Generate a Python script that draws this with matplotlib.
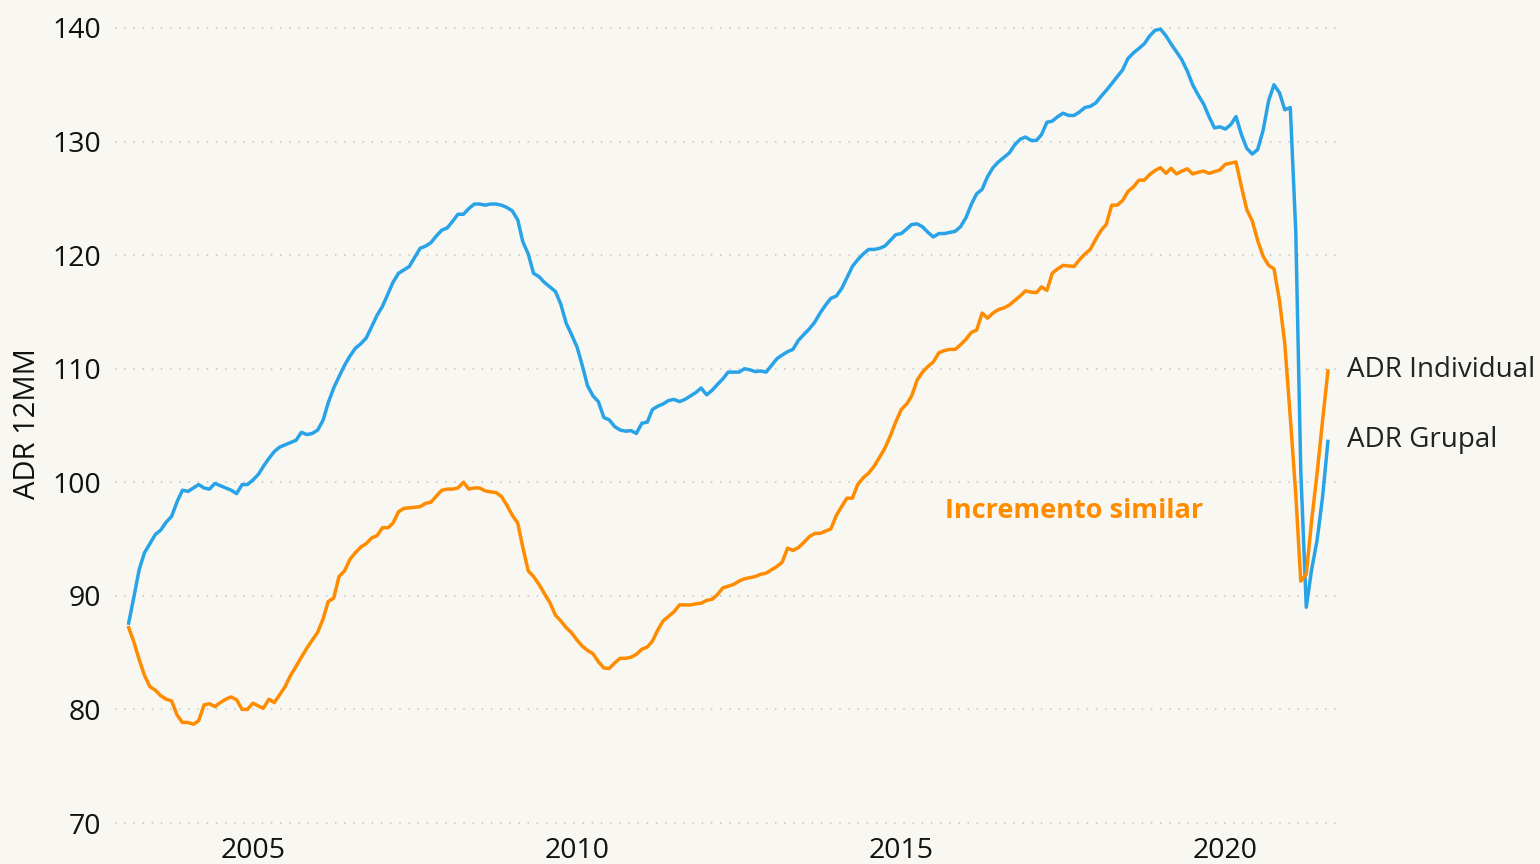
import matplotlib
matplotlib.use("Agg")
import matplotlib.pyplot as plt
import matplotlib.dates as mdates
import numpy as np
import pandas as pd

# monthly 12-month moving ADR, Jan 2003 .. Jul 2021
fechas = pd.date_range("2003-01-31", "2021-07-31", freq="ME")

adr_grupal = [
    87.6, 89.8, 92.3, 93.8, 94.6, 95.4, 95.8, 96.5, 97.0, 98.3, 99.3, 99.2,          # 2003
    99.5, 99.8, 99.5, 99.4, 99.9, 99.7, 99.5, 99.3, 99.0, 99.8, 99.8, 100.2,         # 2004
    100.7, 101.4, 102.1, 102.7, 103.1, 103.3, 103.5, 103.7, 104.4, 104.2, 104.3, 104.6,  # 2005
    105.5, 107.0, 108.3, 109.3, 110.3, 111.1, 111.8, 112.2, 112.7, 113.7, 114.7, 115.5,  # 2006
    116.6, 117.6, 118.4, 118.7, 119.0, 119.8, 120.6, 120.8, 121.1, 121.7, 122.2, 122.4,  # 2007
    123.0, 123.6, 123.6, 124.1, 124.5, 124.5, 124.4, 124.5, 124.5, 124.4, 124.2, 123.9,  # 2008
    123.1, 121.2, 120.1, 118.4, 118.1, 117.6, 117.2, 116.8, 115.7, 114.0, 113.0, 111.9,  # 2009
    110.2, 108.5, 107.6, 107.1, 105.7, 105.5, 104.9, 104.6, 104.5, 104.55, 104.3, 105.2,  # 2010
    105.3, 106.4, 106.7, 106.9, 107.2, 107.3, 107.1, 107.3, 107.6, 107.9, 108.3, 107.7,  # 2011
    108.1, 108.6, 109.1, 109.7, 109.7, 109.7, 110.0, 109.9, 109.75, 109.8, 109.7, 110.3,  # 2012
    110.9, 111.2, 111.5, 111.7, 112.5, 113.0, 113.5, 114.1, 114.9, 115.6, 116.2, 116.4,  # 2013
    117.1, 118.0, 119.0, 119.6, 120.1, 120.5, 120.5, 120.6, 120.8, 121.3, 121.8, 121.9,  # 2014
    122.3, 122.7, 122.75, 122.5, 122.0, 121.6, 121.9, 121.9, 122.0, 122.1, 122.5, 123.3,  # 2015
    124.5, 125.4, 125.8, 126.9, 127.7, 128.2, 128.6, 129.0, 129.7, 130.2, 130.4, 130.1,  # 2016
    130.1, 130.6, 131.7, 131.8, 132.2, 132.5, 132.3, 132.3, 132.6, 133.0, 133.1, 133.4,  # 2017
    134.0, 134.5, 135.1, 135.7, 136.3, 137.3, 137.8, 138.2, 138.6, 139.3, 139.8, 139.9,  # 2018
    139.3, 138.6, 137.9, 137.2, 136.2, 135.0, 134.1, 133.3, 132.2, 131.2, 131.3, 131.1,  # 2019
    131.5, 132.2, 130.6, 129.4, 128.9, 129.3, 131.0, 133.6, 135.0, 134.3, 132.8, 133.0,  # 2020
    122.0, 101.0, 89.0, 92.3, 94.9, 98.6, 103.6,                                       # 2021
]

adr_individual = [
    87.2, 86.0, 84.4, 83.0, 82.0, 81.7, 81.2, 80.9, 80.75, 79.5, 78.85, 78.85,       # 2003
    78.7, 79.0, 80.4, 80.5, 80.25, 80.6, 80.9, 81.1, 80.85, 80.0, 80.0, 80.55,        # 2004
    80.3, 80.1, 80.9, 80.6, 81.3, 82.0, 83.0, 83.8, 84.6, 85.4, 86.1, 86.8,          # 2005
    88.0, 89.5, 89.8, 91.7, 92.2, 93.2, 93.8, 94.3, 94.6, 95.1, 95.3, 96.0,          # 2006
    96.0, 96.4, 97.4, 97.7, 97.75, 97.8, 97.85, 98.15, 98.25, 98.8, 99.3, 99.4,      # 2007
    99.4, 99.5, 100.0, 99.4, 99.5, 99.5, 99.25, 99.15, 99.1, 98.75, 98.0, 97.1,      # 2008
    96.4, 94.3, 92.2, 91.7, 91.0, 90.2, 89.4, 88.3, 87.8, 87.2, 86.75, 86.1,         # 2009
    85.55, 85.2, 84.9, 84.2, 83.65, 83.6, 84.1, 84.5, 84.5, 84.6, 84.85, 85.3,       # 2010
    85.5, 86.0, 87.0, 87.8, 88.2, 88.6, 89.2, 89.2, 89.2, 89.3, 89.35, 89.6,         # 2011
    89.7, 90.1, 90.7, 90.85, 91.0, 91.3, 91.5, 91.6, 91.7, 91.9, 92.0, 92.3,         # 2012
    92.6, 92.95, 94.2, 94.0, 94.25, 94.7, 95.2, 95.5, 95.5, 95.7, 95.9, 97.1,        # 2013
    97.9, 98.6, 98.6, 99.8, 100.4, 100.8, 101.4, 102.2, 103.0, 104.1, 105.3, 106.4,  # 2014
    106.9, 107.6, 109.0, 109.7, 110.2, 110.6, 111.4, 111.6, 111.7, 111.7, 112.1, 112.6,  # 2015
    113.2, 113.4, 114.9, 114.45, 114.9, 115.2, 115.35, 115.6, 116.0, 116.4, 116.85, 116.75,  # 2016
    116.7, 117.2, 116.9, 118.4, 118.8, 119.1, 119.05, 119.0, 119.6, 120.1, 120.5, 121.4,  # 2017
    122.2, 122.7, 124.4, 124.4, 124.8, 125.6, 126.0, 126.6, 126.6, 127.1, 127.45, 127.7,  # 2018
    127.2, 127.65, 127.15, 127.4, 127.6, 127.15, 127.3, 127.4, 127.2, 127.35, 127.5, 128.0,  # 2019
    128.1, 128.2, 126.0, 124.0, 123.0, 121.3, 119.9, 119.1, 118.8, 116.0, 112.2, 105.7,  # 2020
    98.9, 91.3, 91.9, 96.6, 100.8, 105.3, 109.8,                                       # 2021
]

y_ticks = [70, 80, 90, 100, 110, 120, 130, 140]
x_ticks = ["2005", "2010", "2015", "2020"]

bg = "#f8f7f1"
azul = "#29a3e8"
naranja = "#ff8c00"
fuente = ["Open Sans", "DejaVu Sans"]

fig = plt.figure(figsize=(15.4, 8.64), dpi=100, facecolor=bg)
ax = fig.add_axes((115 / 1540, 1 - 823 / 864, 1225 / 1540, 795 / 864))
ax.set_facecolor(bg)

ax.plot(fechas, adr_grupal, color=azul, lw=2.5, clip_on=False, solid_joinstyle="round")
ax.plot(fechas, adr_individual, color=naranja, lw=2.5, clip_on=False, solid_joinstyle="round")

ax.set_ylim(70, 140)
ax.set_xlim(pd.Timestamp("2002-11-15"), pd.Timestamp("2021-10-07"))
ax.set_yticks(y_ticks)
ax.set_xticks([pd.Timestamp(f"{a}-01-01") for a in x_ticks])
ax.xaxis.set_major_formatter(mdates.DateFormatter("%Y"))

ax.grid(axis="y", color="#c4c4c4", lw=1.1, linestyle=(0, (1, 5)))
for gl in ax.get_ygridlines():
    gl.set_clip_on(False)
ax.set_axisbelow(True)
for s in ax.spines.values():
    s.set_visible(False)
ax.tick_params(length=0, labelsize=20.5, colors="#111111")
ax.tick_params(axis="y", pad=10)
ax.tick_params(axis="x", pad=10)
for lab in ax.get_xticklabels() + ax.get_yticklabels():
    lab.set_family(fuente)

fig.text(28 / 1540, 1 - 424 / 864, "ADR 12MM", rotation=90, ha="center", va="center",
         fontsize=21, family=fuente, color="#111111")

# end-of-line labels
ax.annotate("ADR Individual", (fechas[-1], adr_individual[-1]), xytext=(14, 1),
            textcoords="offset points", va="center", ha="left", fontsize=20,
            family=fuente, color="#222222", annotation_clip=False)
ax.annotate("ADR Grupal", (fechas[-1], adr_grupal[-1]), xytext=(14, 1),
            textcoords="offset points", va="center", ha="left", fontsize=20,
            family=fuente, color="#222222", annotation_clip=False)

ax.text(pd.Timestamp("2017-08-30"), 97.5, "Incremento similar", ha="center", va="center",
        fontsize=19.5, fontweight="bold", family=fuente, color=naranja)

fig.savefig("out.png", dpi=100, facecolor=bg)
